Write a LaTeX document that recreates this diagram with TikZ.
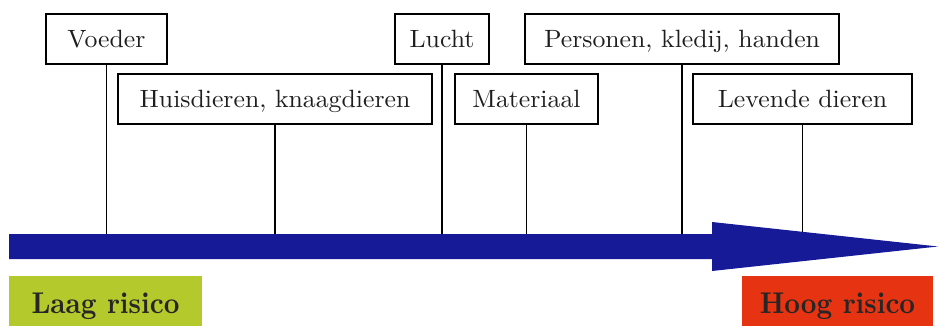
\documentclass[tikz,border=0pt]{standalone}
\usepackage{fontspec}
\newfontfamily\labfont[FakeStretch=1.03]{lmroman10-regular.otf}
\newfontfamily\riskfont[FakeStretch=0.91]{lmroman10-bold.otf}
\definecolor{arrowblue}{RGB}{22,26,150}
\definecolor{lowgreen}{RGB}{180,201,44}
\definecolor{highred}{RGB}{230,52,18}
\definecolor{labeltext}{RGB}{30,30,30}
\tikzset{
  labelbox/.style={draw=black, line width=1.3pt, fill=white, minimum height=50pt, inner sep=0pt,
    text height=23pt, text depth=5pt,
    font=\labfont\fontsize{25}{30}\selectfont, text=labeltext},
  riskbox/.style={minimum height=54pt, inner sep=0pt, anchor=north,
    text height=26pt, text depth=6pt,
    font=\riskfont\fontsize{30}{34}\selectfont, text=black!85},
  stem/.style={draw=black, line width=1.3pt}
}
\begin{document}
\begin{tikzpicture}[x=1pt,y=-1pt]
\useasboundingbox (0,0) rectangle (939,326);
% arrow
\fill[arrowblue] (9,234) -- (712,234) -- (712,222) -- (938,246.5) -- (712,271) -- (712,259) -- (9,259) -- cycle;
\coordinate (axis) at (0,234);
\coordinate (headedge) at (0,232);
% label boxes
\node[labelbox, minimum width=121pt] (voeder) at (106.5,39) {Voeder};
\node[labelbox, minimum width=314pt] (huis) at (275,99) {Huisdieren, knaagdieren};
\node[labelbox, minimum width=94pt] (lucht) at (442,39) {Lucht};
\node[labelbox, minimum width=143pt] (mat) at (526.5,99) {Materiaal};
\node[labelbox, minimum width=314pt] (pers) at (682,39) {Personen, kledij, handen};
\node[labelbox, minimum width=219pt] (lev) at (802.5,99) {Levende dieren};
% stems
\draw[stem] (voeder.south) -- (voeder.south |- axis);
\draw[stem] (huis.south) -- (huis.south |- axis);
\draw[stem] (lucht.south) -- (lucht.south |- axis);
\draw[stem] (mat.south) -- (mat.south |- axis);
\draw[stem] (pers.south) -- (pers.south |- axis);
\draw[stem] (lev.south) -- (lev.south |- headedge);
% risk boxes
\node[riskbox, fill=lowgreen, minimum width=193pt] (laag) at (105.5,276) {Laag risico};
\node[riskbox, fill=highred, minimum width=191pt] (hoog) at (837.5,276) {Hoog risico};
\end{tikzpicture}
\end{document}
